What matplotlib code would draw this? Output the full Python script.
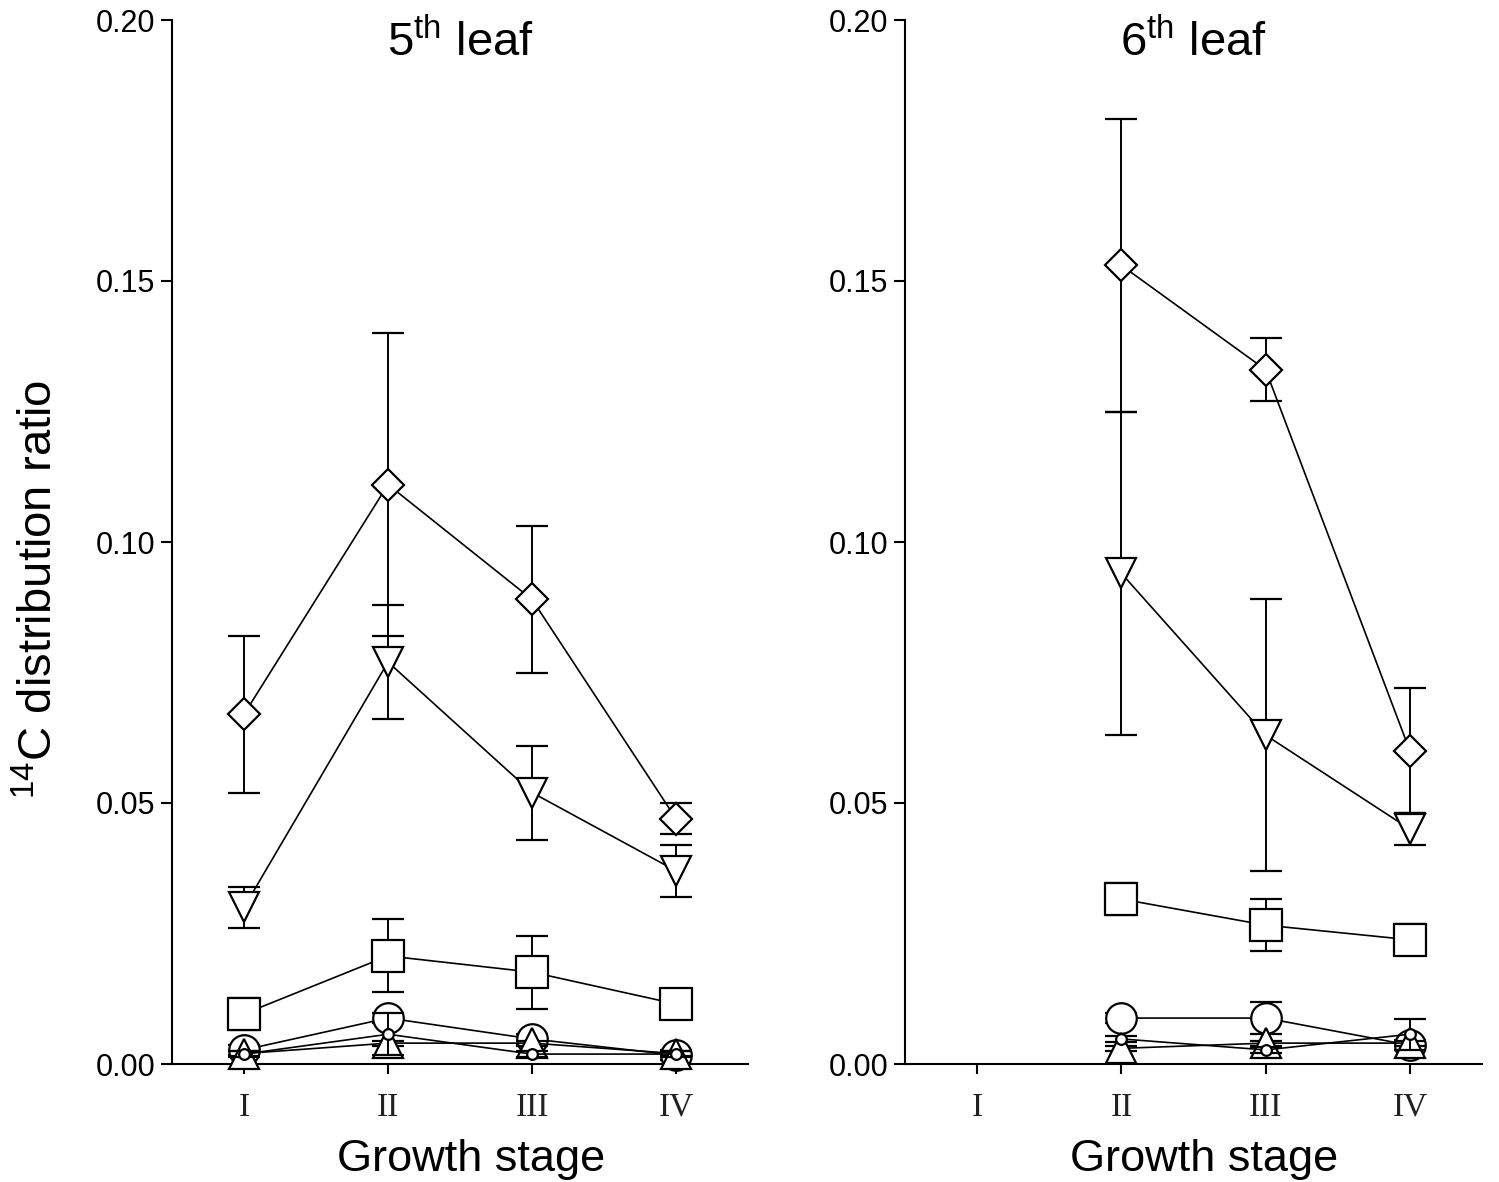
import numpy as np
import matplotlib
matplotlib.use("Agg")
import matplotlib.pyplot as plt

plt.rcParams["font.family"] = ["Liberation Sans", "DejaVu Sans"]
plt.rcParams["mathtext.fontset"] = "custom"
plt.rcParams["mathtext.rm"] = "Liberation Sans"
plt.rcParams["mathtext.it"] = "Liberation Sans:italic"

# ── data ───────────────────────────────────────────────────────
stages = ["I", "II", "III", "IV"]

# 5th leaf: stages I-IV
x5 = [1, 2, 3, 4]
diam5 = [0.067, 0.111, 0.089, 0.047]
diam5_err = [0.015, 0.029, 0.014, 0.003]
tdown5 = [0.030, 0.077, 0.052, 0.037]
tdown5_err = [0.004, 0.011, 0.009, 0.005]
sq5 = [0.0096, 0.0207, 0.0176, 0.0115]
sq5_err = [0.003, 0.007, 0.007, 0.002]
bigc5 = [0.0027, 0.0088, 0.0048, 0.0017]
bigc5_err = [0.001, 0.001, 0.001, 0.001]
tup5 = [0.002, 0.004, 0.004, 0.002]
tup5_err = [0.0005, 0.0005, 0.0005, 0.0005]
smc5 = [0.0019, 0.0057, 0.0019, 0.0019]
smc5_err = [0.0005, 0.004, 0.0005, 0.0005]

# 6th leaf: stages II-IV
x6 = [2, 3, 4]
diam6 = [0.153, 0.133, 0.060]
diam6_err = [0.028, 0.006, 0.012]
tdown6 = [0.094, 0.063, 0.045]
tdown6_err = [0.031, 0.026, 0.003]
sq6 = [0.0316, 0.0266, 0.0238]
sq6_err = [0.003, 0.005, 0.003]
bigc6 = [0.0088, 0.0088, 0.0036]
bigc6_err = [0.001, 0.003, 0.001]
tup6 = [0.003, 0.004, 0.004]
tup6_err = [0.0005, 0.0005, 0.0005]
smc6 = [0.0048, 0.0027, 0.0057]
smc6_err = [0.0005, 0.0005, 0.003]

# marker, size for each series (drawn in this order)
styles = [("D", 15.8), ("v", 22), ("s", 22.5), ("o", 22), ("^", 22), ("o", 7.7)]


def draw_panel(ax, x, series, title):
    for i, ((y, err), (mk, ms)) in enumerate(zip(series, styles)):
        ax.errorbar(x, y, yerr=err, marker=mk, markersize=ms,
                    mfc="white", mec="black", mew=1.6,
                    color="black", lw=1.2, elinewidth=1.4,
                    capsize=11.5, capthick=2.2, zorder=3 + i,
                    clip_on=False)

    ax.set_xlim(0.5, 4.5)
    ax.set_ylim(0, 0.20)
    ax.set_yticks([0, 0.05, 0.10, 0.15, 0.20])
    ax.set_yticklabels(["0.00", "0.05", "0.10", "0.15", "0.20"])
    ax.set_xticks([1, 2, 3, 4])
    ax.set_xticklabels(stages, fontfamily="Liberation Serif", fontsize=24,
                       color="#222222")
    ax.tick_params(axis="y", labelsize=22, length=8, width=1.5, pad=4)
    ax.tick_params(axis="x", length=7.5, width=1.5, pad=13)
    for side in ("top", "right"):
        ax.spines[side].set_visible(False)
    for side in ("left", "bottom"):
        ax.spines[side].set_linewidth(1.5)

    ax.text(0.5, 1.0, title, transform=ax.transAxes, ha="center",
            va="top", fontsize=34)
    ax.text(0.519, -0.072, "Growth stage", transform=ax.transAxes,
            ha="center", va="top", fontsize=32.5)


fig = plt.figure(figsize=(14.99, 11.82), dpi=100)
ax1 = fig.add_axes([172 / 1499, 1 - 1064 / 1182, 576 / 1499, 1044 / 1182])
ax2 = fig.add_axes([905 / 1499, 1 - 1064 / 1182, 577 / 1499, 1044 / 1182])

draw_panel(ax1, x5, [(diam5, diam5_err), (tdown5, tdown5_err), (sq5, sq5_err),
                     (bigc5, bigc5_err), (tup5, tup5_err), (smc5, smc5_err)],
           r"5$^{\mathrm{th}}$ leaf")
draw_panel(ax2, x6, [(diam6, diam6_err), (tdown6, tdown6_err), (sq6, sq6_err),
                     (bigc6, bigc6_err), (tup6, tup6_err), (smc6, smc6_err)],
           r"6$^{\mathrm{th}}$ leaf")

fig.text(40 / 1499, 1 - 589 / 1182, r"$^{14}$C distribution ratio",
         rotation=90, ha="center", va="center", fontsize=34)

fig.savefig("out.png", dpi=100)
